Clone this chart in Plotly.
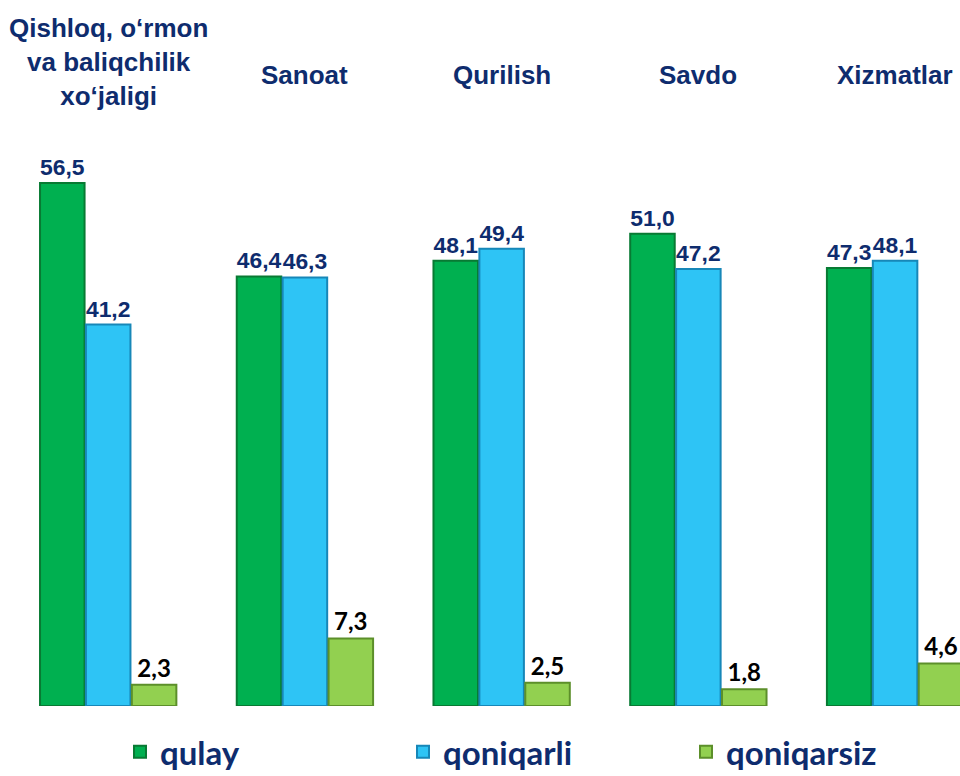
import plotly.graph_objects as go

# sectors (x axis) and survey shares, %
categories = ["Qishloq", "Sanoat", "Qurilish", "Savdo", "Xizmatlar"]
category_titles = ["Qishloq, o‘rmon<br>va baliqchilik<br>xo‘jaligi", "Sanoat", "Qurilish", "Savdo", "Xizmatlar"]

series_names = ["qulay", "qoniqarli", "qoniqarsiz"]
qulay = [56.5, 46.4, 48.1, 51.0, 47.3]
qoniqarli = [41.2, 46.3, 49.4, 47.2, 48.1]
qoniqarsiz = [2.3, 7.3, 2.5, 1.8, 4.6]

navy = "#0E2C6E"


def fmt(vals):
    return [f"{v:.1f}".replace(".", ",") for v in vals]


fig = go.Figure()

styles = [
    (qulay, "#00B050", "#087A33", dict(family="Liberation Sans, Arial", size=27, color=navy, weight="bold")),
    (qoniqarli, "#2EC4F5", "#1787B8", dict(family="Liberation Sans, Arial", size=27, color=navy, weight="bold")),
    (qoniqarsiz, "#92D050", "#5C8F2A", dict(family="Lato, Calibri", size=24, color="#000000", weight="bold")),
]

for name, (vals, col, edge, tfont) in zip(series_names, styles):
    fig.add_trace(go.Bar(
        x=categories, y=vals, name=name,
        marker=dict(color=col, line=dict(color=edge, width=2)),
        text=fmt(vals), textposition="outside", textfont=tfont,
        cliponaxis=False, hoverinfo="skip",
    ))

# sector titles above the groups
for i, (c, t) in enumerate(zip(categories, category_titles)):
    fig.add_annotation(
        x=c, xref="x", y=1.099 if i == 0 else 1.077, yref="paper",
        text=f"<b>{t}</b>", showarrow=False, yanchor="middle",
        font=dict(family="Liberation Sans, Arial", size=26, color=navy),
    )

fig.update_layout(
    width=960, height=776,
    margin=dict(l=0, r=0, t=120, b=70, autoexpand=False),
    paper_bgcolor="white", plot_bgcolor="white",
    barmode="group", bargap=0.3, bargroupgap=0.03,
    xaxis=dict(range=[-0.55, 4.33], showticklabels=False, showgrid=False,
               zeroline=False, showline=False),
    yaxis=dict(range=[0, 63.3], visible=False),
    legend=dict(
        orientation="h", x=0.125, xanchor="left", y=-0.078, yanchor="middle",
        entrywidth=238, entrywidthmode="pixels",
        font=dict(family="Lato, Calibri", size=33, color=navy, weight="bold"),
    ),
)

fig.write_html("out.html", config={"displayModeBar": False},
               post_script="document.body.style.margin='0';")
